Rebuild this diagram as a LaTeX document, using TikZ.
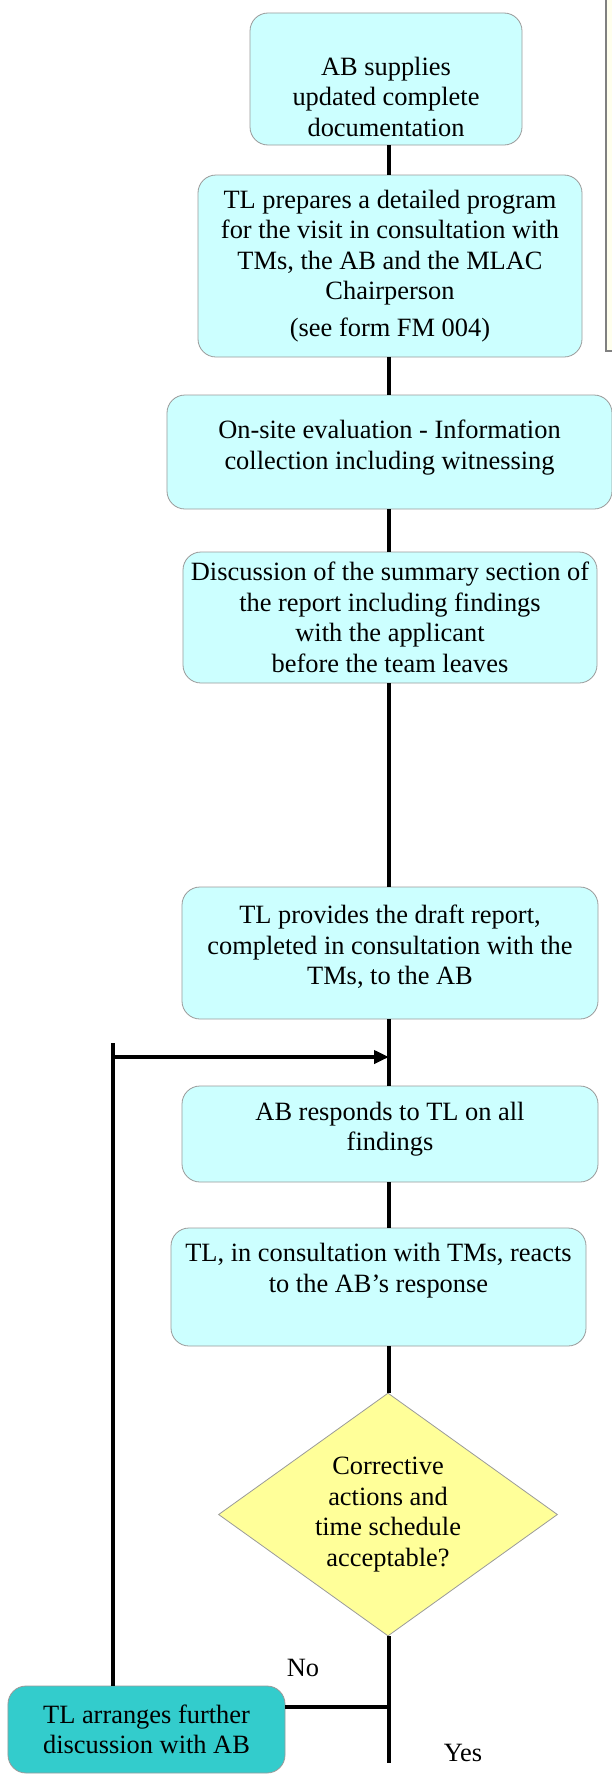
\documentclass[tikz,border=0pt]{standalone}
\usepackage{fontspec}
\setmainfont{Liberation Serif}
\usetikzlibrary{arrows.meta,shapes.geometric}
\definecolor{boxcyan}{HTML}{CCFFFF}
\definecolor{decideyellow}{HTML}{FFFF99}
\definecolor{fixteal}{HTML}{33CCCC}
\definecolor{notecream}{HTML}{FFFFEE}
\definecolor{edgegray}{HTML}{9A9A9A}

\begin{document}
\begin{tikzpicture}[x=1bp, y=-1bp,
  every node/.style={font=\fontsize{26.5}{30.7}\selectfont, align=center, inner sep=0pt},
  procbox/.style={draw=edgegray, line width=0.8bp, fill=boxcyan, rounded corners=18bp},
  decision/.style={diamond, draw=edgegray, line width=0.8bp, fill=decideyellow, aspect=1.4},
  flow/.style={line width=3.8bp, black}]
  \useasboundingbox (0,0) rectangle (612,1774);

  % note box cut by the right margin
  \draw[draw=gray, fill=notecream, line width=1.2bp] (606,-10) rectangle (640,351);

  % process boxes
  \node[procbox, minimum width=272bp, minimum height=132bp] (supply) at (386,79)
    {\rule{0pt}{54pt}AB supplies\\updated complete\\documentation};
  \node[procbox, minimum width=384bp, minimum height=182bp] (program) at (390,266)
    {TL prepares a detailed program\\for the visit in consultation with\\TMs, the AB and the MLAC\\Chairperson\\[6pt](see form FM 004)};
  \node[procbox, minimum width=445bp, minimum height=114bp] (onsite) at (389.5,452)
    {On-site evaluation - Information\\collection including witnessing\rule[-15pt]{0pt}{15pt}};
  \node[procbox, minimum width=414bp, minimum height=131bp] (discuss) at (390,617.5)
    {Discussion of the summary section of\\the report including findings\\with the applicant\\before the team leaves};
  \node[procbox, minimum width=416bp, minimum height=132bp] (draft) at (390,953)
    {TL provides the draft report,\\completed in consultation with the\\TMs, to the AB\rule[-16pt]{0pt}{16pt}};
  \node[procbox, minimum width=416bp, minimum height=96bp] (respond) at (390,1134)
    {AB responds to TL on all\\findings\rule[-15pt]{0pt}{15pt}};
  \node[procbox, minimum width=415bp, minimum height=118bp] (react) at (378.5,1287)
    {TL, in consultation with TMs, reacts\\to the AB's response\rule[-38pt]{0pt}{38pt}};

  % decision
  \node[decision, minimum width=339bp, minimum height=243bp] (decide) at (388,1514.5)
    {Corrective\\actions and\\time schedule\\acceptable?};
  \node[procbox, fill=fixteal, minimum width=277bp, minimum height=87bp] (fix) at (146.5,1729.5)
    {TL arranges further\\discussion with AB};
  \node (no) at (303,1668) {No};
  \node (yes) at (463,1753) {Yes};

  % main flow
  \coordinate (spine) at (389,0);
  \foreach \a/\b in {supply/program, program/onsite, onsite/discuss, discuss/draft,
                     draft/respond, respond/react, react/decide}
    \draw[flow] (\a.south -| spine) -- (\b.north -| spine);
  \coordinate (exit) at (389,1763);
  \draw[flow] (decide.south -| spine) -- (exit);

  % loop back
  \coordinate (noturn) at (391,1707);
  \coordinate (looptop) at (113,1043);
  \coordinate (join) at (389,1057);
  \draw[flow] (fix.east |- noturn) -- (noturn);
  \draw[flow] (fix.north -| looptop) -- (looptop);
  \draw[flow, -{Triangle[length=15bp, width=13bp]}] (looptop |- join) -- (join);
\end{tikzpicture}
\end{document}
